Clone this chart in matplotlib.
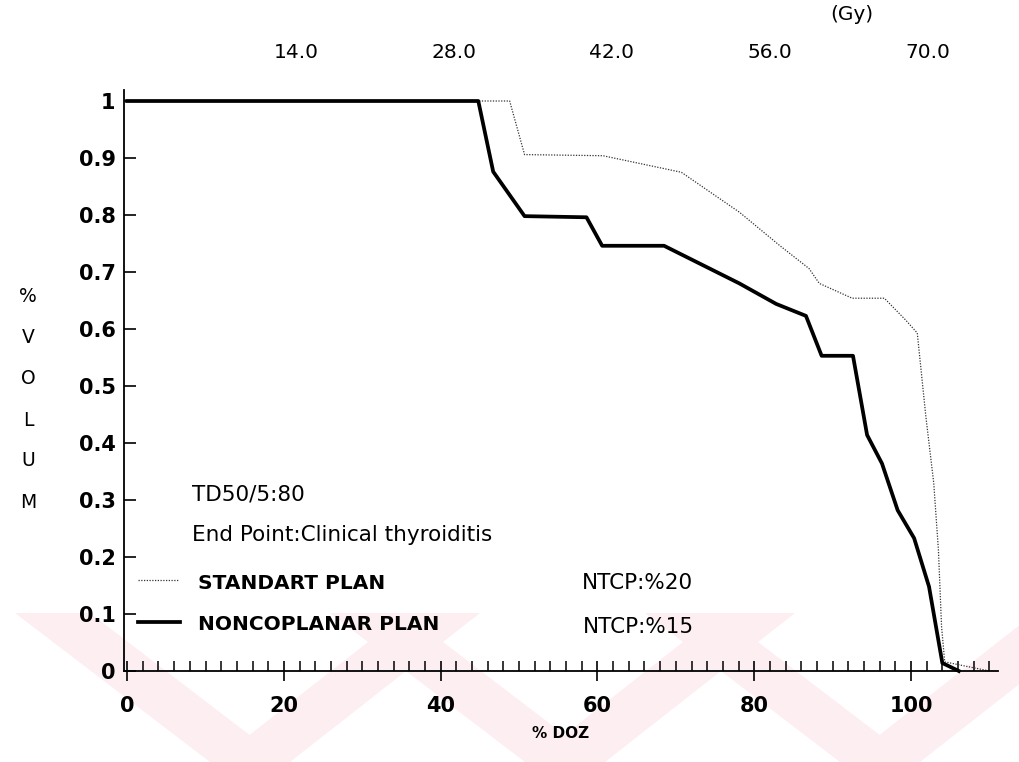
import matplotlib
matplotlib.use('Agg')
import numpy as np
import matplotlib.pyplot as plt
from matplotlib.patches import Polygon
from matplotlib.ticker import FixedLocator, MultipleLocator

plt.rcParams['font.family'] = 'DejaVu Sans'

# dose volume histogram (% dose, fractional volume)
std_dose = [0, 48.8, 50.7, 60.7, 70.7, 78.1, 83.2, 87.0, 88.3, 92.5, 96.6,
            99.3, 100.8, 101.9, 102.9, 103.5, 103.9, 104.3, 110.0]
std_vol = [1.0, 1.0, 0.906, 0.904, 0.875, 0.805, 0.747, 0.706, 0.68, 0.654, 0.654,
           0.616, 0.593, 0.446, 0.33, 0.212, 0.078, 0.016, 0.0]

nc_dose = [0, 44.8, 46.7, 50.7, 58.6, 60.6, 68.5, 78.1, 82.8, 86.6, 88.6,
           92.6, 94.4, 96.3, 98.3, 100.4, 102.3, 104.0, 106.1]
nc_vol = [1.0, 1.0, 0.876, 0.798, 0.796, 0.746, 0.746, 0.68, 0.644, 0.623, 0.553,
          0.553, 0.414, 0.364, 0.282, 0.233, 0.148, 0.014, 0.0]

y_ticks = [0, 0.1, 0.2, 0.3, 0.4, 0.5, 0.6, 0.7, 0.8, 0.9, 1.0]
y_labels = ['0', '0.1', '0.2', '0.3', '0.4', '0.5', '0.6', '0.7', '0.8', '0.9', '1']
x_ticks = [0, 20, 40, 60, 80, 100]
gy_ticks = [14.0, 28.0, 42.0, 56.0, 70.0]

td50 = 'TD50/5:80'
end_point = 'End Point:Clinical thyroiditis'
std_name, std_ntcp = 'STANDART PLAN', 'NTCP:%20'
nc_name, nc_ntcp = 'NONCOPLANAR PLAN', 'NTCP:%15'

W, H = 1019, 762
fig = plt.figure(figsize=(W / 100, H / 100), dpi=100)

# faint watermark stripes of the scanned page
pink = '#fdeef1'
for x0 in [15, 330, 645]:
    arms = [[(x0, 613), (x0 + 75, 613), (x0 + 270, 762), (x0 + 195, 762)],
            [(x0 + 200, 762), (x0 + 275, 762), (x0 + 465, 613), (x0 + 390, 613)]]
    for arm in arms:
        pts = [(px / W, 1 - py / H) for px, py in arm]
        fig.patches.append(Polygon(pts, closed=True, transform=fig.transFigure,
                                   facecolor=pink, edgecolor='none', zorder=-5))

ax = fig.add_axes([124 / W, 1 - 671 / H, 874 / W, (671 - 89.6) / H])
ax.patch.set_alpha(0)

ax.plot(std_dose, std_vol, color='#333333', lw=0.9, ls=(0, (1, 1.2)), clip_on=False)
ax.plot(nc_dose, nc_vol, color='black', lw=2.7, clip_on=False)

ax.set_xlim(-0.4, 111.1)
ax.set_ylim(0, 1.02)

for s in ['top', 'right']:
    ax.spines[s].set_visible(False)
for s in ['left', 'bottom']:
    ax.spines[s].set_linewidth(1.3)

ax.xaxis.set_major_locator(FixedLocator(x_ticks))
ax.xaxis.set_minor_locator(MultipleLocator(2))
ax.set_yticks(y_ticks)
ax.set_yticklabels(y_labels)
ax.tick_params(axis='x', which='major', direction='inout', length=14, width=1.2,
               pad=11, labelsize=15)
ax.tick_params(axis='x', which='minor', direction='in', length=7, width=1.1)
ax.tick_params(axis='y', direction='in', length=8.5, width=1.2, pad=6, labelsize=15)
for lab in ax.get_xticklabels() + ax.get_yticklabels():
    lab.set_fontweight('bold')

# dose in Gy along the top
sec = ax.secondary_xaxis('top', functions=(lambda p: (p - 1.5) / 1.437,
                                           lambda g: g * 1.437 + 1.5))
sec.set_xticks(gy_ticks)
sec.set_xticklabels(['%.1f' % g for g in gy_ticks])
sec.tick_params(length=0, pad=20, labelsize=14.5)
sec.spines['top'].set_visible(False)
fig.text(852 / W, 1 - 14 / H, '(Gy)', fontsize=14.5, ha='center', va='center')

ax.set_xlabel('% DOZ', fontsize=11, fontweight='bold', labelpad=7)

for i, ch in enumerate('%VOLUM'):
    fig.text(28 / W, 1 - (297 + 41 * i) / H, ch, fontsize=13.5, ha='center', va='center')

ax.text(0.0778, 0.303, td50, transform=ax.transAxes, fontsize=15.5, va='center')
ax.text(0.0778, 0.234, end_point, transform=ax.transAxes, fontsize=15.5, va='center')

ax.plot([0.016, 0.062], [0.157, 0.157], transform=ax.transAxes, color='#333333',
        lw=0.9, ls=(0, (1, 1.2)), clip_on=False)
ax.plot([0.016, 0.064], [0.085, 0.085], transform=ax.transAxes, color='black',
        lw=2.7, clip_on=False)
ax.text(0.0847, 0.150, std_name, transform=ax.transAxes, fontsize=14.5,
        fontweight='bold', va='center')
ax.text(0.0847, 0.080, nc_name, transform=ax.transAxes, fontsize=14.5,
        fontweight='bold', va='center')
ax.text(0.524, 0.151, std_ntcp, transform=ax.transAxes, fontsize=15.5, va='center')
ax.text(0.525, 0.076, nc_ntcp, transform=ax.transAxes, fontsize=15.5, va='center')

fig.savefig('out.png', dpi=100)
